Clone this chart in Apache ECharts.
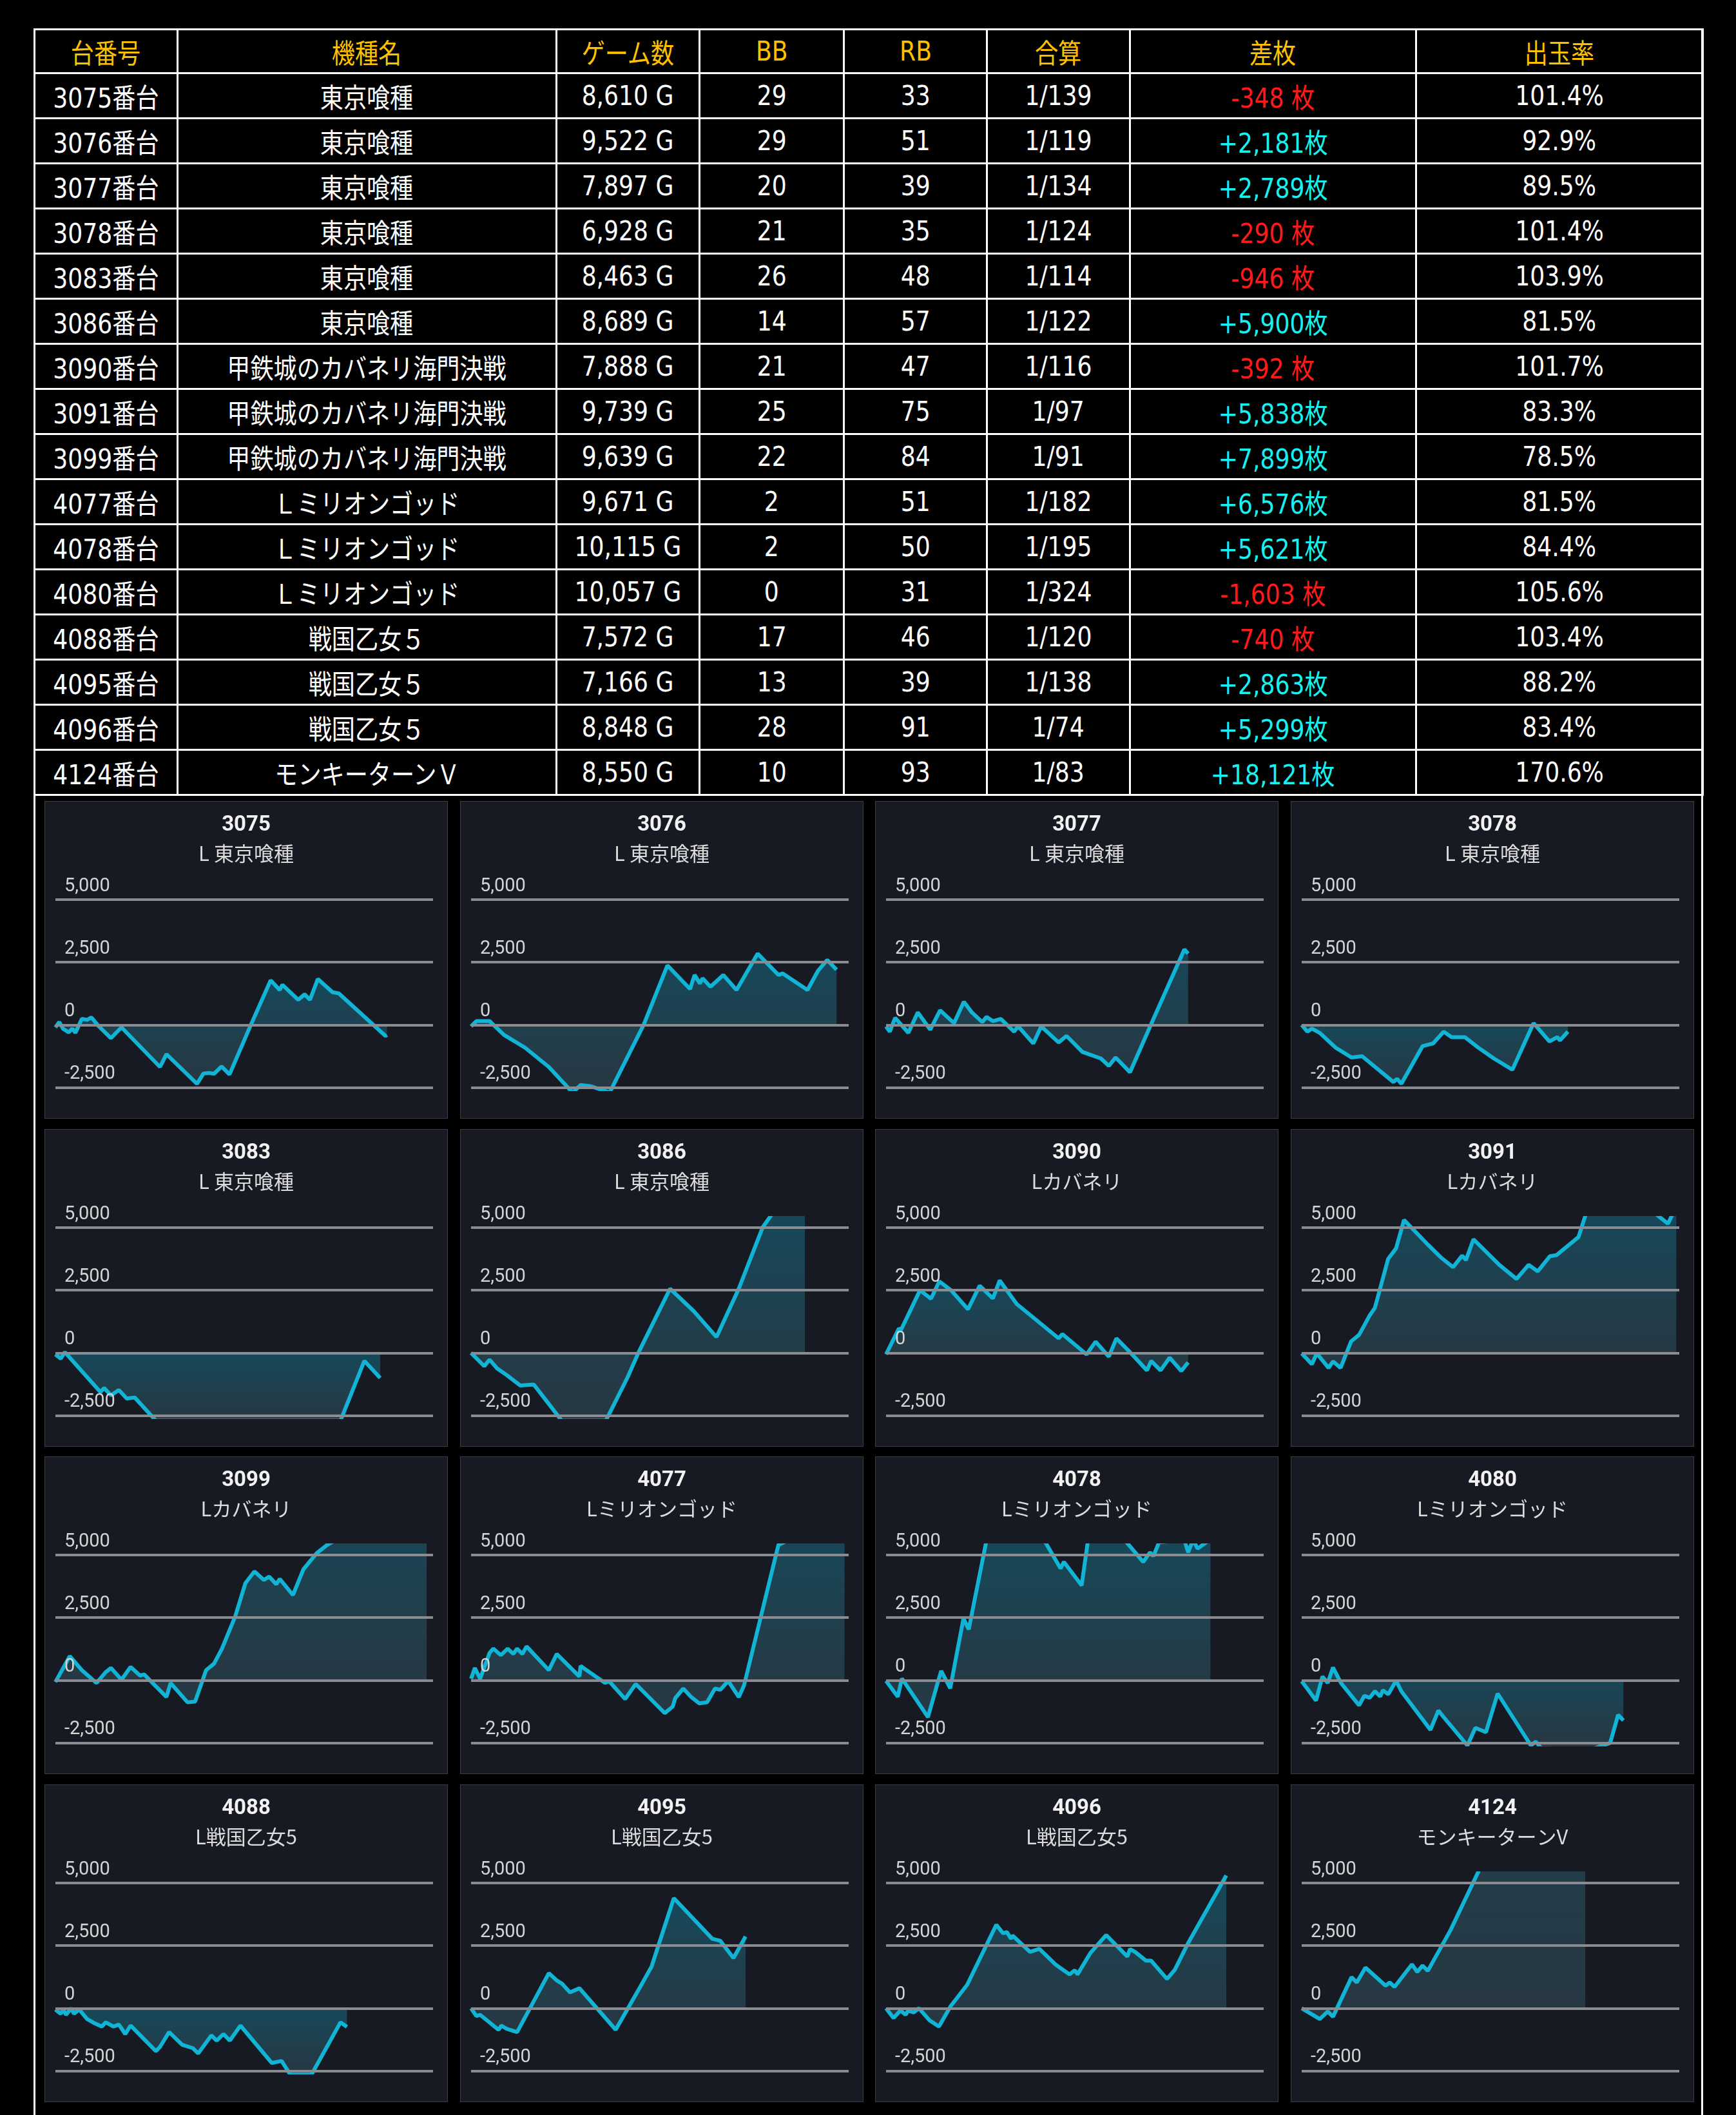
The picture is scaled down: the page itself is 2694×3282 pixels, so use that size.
<!DOCTYPE html>
<html><head><meta charset="utf-8">
<script src="https://cdn.jsdelivr.net/npm/echarts@6/dist/echarts.min.js"></script>
<style>
html,body{margin:0;padding:0;background:#000;width:2694px;height:3282px;overflow:hidden;}
#frame{position:absolute;left:52px;top:44px;width:2585px;height:3240px;border-left:3px solid #fff;border-right:3px solid #fff;}
table{position:absolute;left:52px;top:44px;width:2591px;border-collapse:collapse;table-layout:fixed;}
td{border:3px solid #fff;height:67px;text-align:center;color:#fff;font-family:'DejaVu Sans','Noto Sans CJK JP';font-size:42px;padding:0;white-space:nowrap;}
td span{display:inline-block;transform:scaleX(0.86);}
tr.h td{color:#FFC000;height:65px;}
.neg{color:#ff1a1a}.pos{color:#19f0f0}
.panel{position:absolute;width:624px;height:491px;background:#171a22;border:1px solid #3a3d45;}
</style></head><body>
<div id="frame"></div>
<table id="tbl"></table>
<div id="panels"></div>
<script>
// ---- table data ----
const headers = ['台番号','機種名','ゲーム数','BB','RB','合算','差枚','出玉率'];
const colWidths = [222,588,222,224,222,222,444,445];
const machineNo = ['3075','3076','3077','3078','3083','3086','3090','3091','3099','4077','4078','4080','4088','4095','4096','4124'];
const machineName = ['東京喰種','東京喰種','東京喰種','東京喰種','東京喰種','東京喰種','甲鉄城のカバネリ海門決戦','甲鉄城のカバネリ海門決戦','甲鉄城のカバネリ海門決戦','Ｌミリオンゴッド','Ｌミリオンゴッド','Ｌミリオンゴッド','戦国乙女５','戦国乙女５','戦国乙女５','モンキーターンＶ'];
const games = [8610,9522,7897,6928,8463,8689,7888,9739,9639,9671,10115,10057,7572,7166,8848,8550];
const bb = [29,29,20,21,26,14,21,25,22,2,2,0,17,13,28,10];
const rb = [33,51,39,35,48,57,47,75,84,51,50,31,46,39,91,93];
const combined = ['1/139','1/119','1/134','1/124','1/114','1/122','1/116','1/97','1/91','1/182','1/195','1/324','1/120','1/138','1/74','1/83'];
const diff = [-348,2181,2789,-290,-946,5900,-392,5838,7899,6576,5621,-1603,-740,2863,5299,18121];
const rate = ['101.4%','92.9%','89.5%','101.4%','103.9%','81.5%','101.7%','83.3%','78.5%','81.5%','84.4%','105.6%','103.4%','88.2%','83.4%','170.6%'];

// ---- chart data: [progress %, 差枚] ----
const panelTitle = machineNo;
const panelSub = ['L 東京喰種','L 東京喰種','L 東京喰種','L 東京喰種','L 東京喰種','L 東京喰種','Lカバネリ','Lカバネリ','Lカバネリ','Lミリオンゴッド','Lミリオンゴッド','Lミリオンゴッド','L戦国乙女5','L戦国乙女5','L戦国乙女5','モンキーターンV'];
const yTicks = [-2500,0,2500,5000];
const s3075=[[0,-100],[1,110],[2,-150],[3.5,-300],[4.5,-150],[5.3,-320],[7,240],[8.4,200],[9.5,300],[11.5,-60],[14.7,-530],[17.5,-100],[27.7,-1680],[29.4,-1170],[37.5,-2350],[39.2,-1940],[40.8,-1920],[42,-1950],[44,-1660],[46.1,-1980],[51.7,-20],[57,1775],[59.4,1390],[60.1,1600],[64.3,1000],[66,1220],[67.4,1000],[69.5,1830],[73.4,1300],[75,1260],[87.4,-440],[87.8,-400]];
const s3076=[[0,-60],[1.4,150],[4.9,150],[8.7,-400],[14.3,-910],[20.6,-1680],[26.9,-2700],[29,-2400],[31.8,-2450],[36.7,-2700],[45.7,0],[52,2370],[58,1430],[59.2,1990],[60.6,1650],[61.3,1860],[63.4,1520],[66.8,1990],[70.3,1390],[75.9,2840],[81.4,1990],[82.5,2050],[89.1,1390],[91.9,2160],[94.3,2590],[96.8,2200]];
const s3077=[[0,-60],[1,-270],[2.4,280],[5.9,-320],[8.4,500],[11.7,-190],[14.3,580],[18,70],[20.6,920],[22.7,500],[25.5,110],[26.6,320],[28.3,150],[30.4,240],[33.9,-270],[35,-60],[39,-740],[41.1,-60],[45.7,-700],[47.8,-440],[52,-1080],[56.9,-1340],[59,-1640],[60.8,-1300],[64.6,-1890],[70.2,30],[79,3010],[80,2840]];
const s3078=[[0,0],[1.5,-270],[2.7,-150],[4.8,-320],[9,-910],[13.2,-1300],[16,-1250],[24.3,-2280],[25.3,-2150],[26.4,-2350],[32,-850],[34.8,-740],[37.6,-270],[39.7,-490],[43.2,-490],[46.7,-900],[50.9,-1340],[55.8,-1790],[61.4,70],[65.6,-660],[67.7,-490],[68.4,-620],[70.5,-270]];
const s3083=[[0,-60],[1.4,-230],[2.5,30],[11.9,-1560],[12.9,-1400],[14.7,-1690],[16.8,-1480],[18.9,-1820],[21,-1780],[26.6,-2700],[75.5,-2700],[81.8,-320],[86,-1000]];
const s3086=[[0,0],[3.5,-530],[4.9,-270],[6.9,-620],[9.4,-880],[13,-1300],[16.6,-1260],[24,-2700],[35.7,-2700],[41.5,-960],[44.3,0],[52.7,2560],[59,1660],[65,630],[70.9,2560],[77.2,5000],[80,5600],[88.4,5900]];
const s3090=[[0,-60],[3.4,970],[4,930],[9,2500],[11.9,2160],[14.1,2850],[17.2,2500],[21.7,1740],[24.8,2680],[28.3,2170],[30.1,2890],[34.6,1950],[38.1,1520],[45.7,580],[46.7,750],[53.1,-60],[55.5,450],[59,-150],[61,580],[64.6,30],[69.1,-700],[70.2,-320],[72.7,-700],[75.1,-190],[78.2,-720],[80,-380]];
const s3091=[[0,-20],[2.7,-450],[4,-20],[7.1,-600],[8.3,-340],[10.3,-600],[13.1,460],[15.2,720],[18,1490],[19.4,1800],[22.9,3750],[25,4170],[27.1,5300],[33.4,4320],[36.9,3800],[40.1,3420],[42.5,3880],[43.5,3700],[45.5,4530],[52.4,3500],[56.9,2950],[60.1,3510],[62.5,3250],[65.7,3850],[67.5,3900],[73.3,4620],[75.4,5600],[90,6000],[97,5150],[99.2,5838]];
const s3099=[[0,-70],[3.8,960],[7,400],[10.9,-110],[13.3,320],[14.7,490],[17.5,20],[19.9,530],[22.4,190],[23.5,230],[29.4,-670],[30.5,-110],[35,-880],[37,-850],[39.9,400],[42,660],[44.1,1260],[47.6,2540],[50.3,3870],[52.7,4340],[55.2,4000],[56.6,4130],[58.5,3830],[59.4,4040],[62.9,3400],[65.7,4430],[69.2,5070],[72,5400],[85,6500],[98.3,7899]];
const s4077=[[0,60],[1,490],[2.4,60],[4.9,1090],[5.9,1260],[7.9,1000],[9.7,1260],[11.2,1050],[12.2,1260],[13.6,1050],[14.7,1350],[20.6,400],[22.7,1050],[28.7,150],[29,570],[35.5,-110],[36.5,-30],[40.8,-750],[43.6,-150],[51.3,-1310],[53.4,-1050],[54.1,-710],[56.2,-330],[58.3,-670],[60.4,-920],[62.5,-880],[64.6,-330],[66,-380],[68.1,-30],[70.9,-670],[72.3,-200],[81.4,5400],[90,6000],[98.9,6576]];
const s4078=[[0,-20],[3.1,-660],[4.2,70],[11.1,-1470],[13.5,-190],[14.6,370],[17,-320],[20.5,2460],[21.9,2030],[26.9,5800],[35,6000],[42.2,5500],[46.2,4460],[47.1,4720],[51.8,3780],[53.5,5600],[62,5800],[68.1,4720],[69.9,5100],[70.8,4950],[72.3,5500],[79,5600],[80,5100],[81.3,5600],[82.5,5250],[85.9,5621]];
const s4080=[[0,-40],[1.3,-300],[3.8,-810],[5.5,150],[6.9,-110],[8.3,510],[10.4,-110],[15.2,-1000],[16.6,-620],[18,-700],[19.4,-440],[20.8,-650],[21.5,-400],[22.9,-560],[25,-20],[26.4,-440],[34.1,-1980],[36.2,-1210],[37.6,-1470],[43.9,-2600],[46,-1900],[48.8,-2070],[51.9,-530],[60.7,-2600],[62,-2450],[63.4,-2700],[76.8,-2750],[81.7,-2500],[83.8,-1380],[85.2,-1603]];
const s4088=[[0,-50],[1.4,-220],[2.1,-50],[2.8,-260],[4.2,0],[4.9,-220],[6.3,-50],[8.4,-430],[10.5,-610],[12.3,-730],[13.3,-560],[15.4,-730],[16.8,-650],[18.5,-1030],[19.9,-690],[26.6,-1710],[27.7,-1540],[30.1,-950],[33.6,-1460],[36.4,-1590],[37.8,-1800],[41.3,-1080],[42.7,-1290],[44.5,-1030],[46.2,-1290],[49,-690],[57.3,-2180],[59.9,-2100],[62.2,-2650],[67.8,-2650],[75.5,-560],[77.2,-740]];
const s4095=[[0,0],[1.4,-310],[2.4,-260],[7.3,-860],[8,-690],[9.5,-820],[12.2,-950],[20.6,1400],[22.7,1110],[24.1,980],[26.2,630],[28.7,800],[38.3,-860],[44.3,720],[47.8,1660],[53.7,4390],[63.9,2770],[66,2690],[69.5,2000],[72.7,2863]];
const s4096=[[0,0],[2,-390],[3.8,-90],[5.2,-260],[5.9,-90],[7.3,-170],[8.7,0],[11.5,-480],[14,-730],[17.1,80],[21.5,940],[29.2,3330],[31,2990],[32,3040],[33.1,2770],[33.5,2900],[38.1,2250],[40.6,2370],[45,1730],[48.6,1350],[50,1520],[50.7,1350],[54.1,2200],[58.3,2920],[63.9,2060],[64.6,2360],[66,2240],[68.8,1900],[70.2,1900],[74.4,1170],[76.5,1540],[80,2600],[90.1,5299]];
const s4124=[[0,0],[4.8,-430],[6.9,-130],[8.3,-340],[13.2,1240],[14.6,1030],[16.9,1620],[22.2,900],[23.3,1030],[24.6,850],[29.2,1750],[30.6,1450],[32,1700],[33.4,1490],[39.4,3110],[46.7,5420],[60,10000],[75.1,18121]];
const seriesList=[s3075,s3076,s3077,s3078,s3083,s3086,s3090,s3091,s3099,s4077,s4078,s4080,s4088,s4095,s4096,s4124];

// ---- build table ----
const tbl=document.getElementById('tbl');
let html='<colgroup>'+colWidths.map(w=>'<col style="width:'+w+'px">').join('')+'</colgroup>';
html+='<tr class="h">'+headers.map(h=>'<td><span>'+h+'</span></td>').join('')+'</tr>';
const fmt=n=>n.toLocaleString('en-US');
for(let i=0;i<machineNo.length;i++){
  const d=diff[i];
  const dTxt=d<0?('-'+fmt(-d)+' 枚'):('+'+fmt(d)+'枚');
  html+='<tr><td><span>'+machineNo[i]+'番台</span></td><td><span>'+machineName[i]+'</span></td><td><span>'+fmt(games[i])+' G</span></td><td><span>'+bb[i]+'</span></td><td><span>'+rb[i]+'</span></td><td><span>'+combined[i]+'</span></td><td class="'+(d<0?'neg':'pos')+'"><span>'+dTxt+'</span></td><td><span>'+rate[i]+'</span></td></tr>';
}
tbl.innerHTML=html;

// ---- panels ----
const px=[69,714,1358,2003], py=[1243,1752,2260,2769];
const holder=document.getElementById('panels');
seriesList.forEach((data,i)=>{
  const div=document.createElement('div');
  div.className='panel';
  div.style.left=px[i%4]+'px'; div.style.top=py[Math.floor(i/4)]+'px';
  holder.appendChild(div);
  const ch=echarts.init(div,null,{renderer:'canvas'});
  ch.setOption({
    animation:false,
    backgroundColor:'#171a22',
    title:{text:panelTitle[i],subtext:panelSub[i],left:'center',top:15,itemGap:12,
      textStyle:{color:'#f2f2f2',fontSize:33,fontWeight:'bold',fontFamily:'Roboto'},
      subtextStyle:{color:'#dcdcdc',fontSize:31,fontFamily:'Noto Sans CJK JP'}},
    grid:{left:16,right:22,top:137,bottom:45},
    xAxis:{type:'value',min:0,max:100,show:false},
    yAxis:{type:'value',min:-2560,max:5380,show:false,splitLine:{show:false}},
    series:[
      {type:'line',data:[],z:1,silent:true,
        markLine:{silent:true,symbol:['none','none'],animation:false,
          lineStyle:{color:'#8b8c91',width:4,type:'solid'},
          label:{position:'insideStartTop',distance:[14,6],color:'#d4d4d4',fontSize:29,fontFamily:'Roboto',
            formatter:p=>fmt(p.value)},
          data:yTicks.map(v=>({yAxis:v}))}},
      {type:'line',data:data,z:3,showSymbol:false,clip:true,
        lineStyle:{color:'#12b4d6',width:6},
        areaStyle:{color:new echarts.graphic.LinearGradient(0,0,0,1,[{offset:0,color:'rgba(18,100,124,0.9)'},{offset:1,color:'rgba(60,95,110,0.6)'}])}}
    ]
  });
});
</script></body></html>
